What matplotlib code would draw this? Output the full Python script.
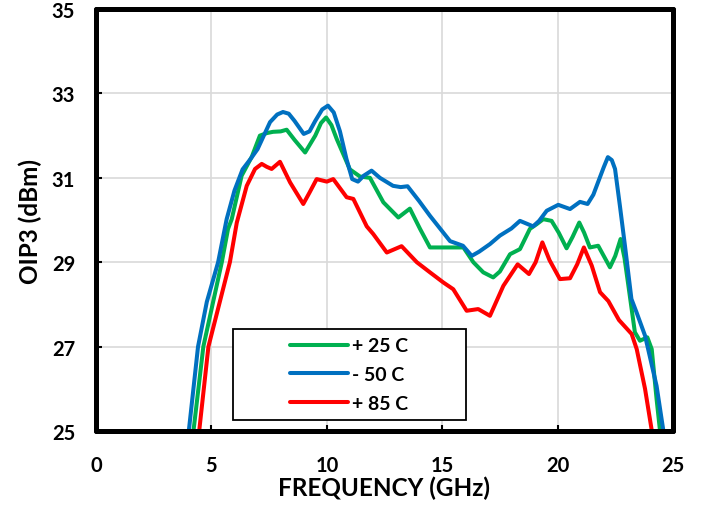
import matplotlib
matplotlib.use("Agg")
import matplotlib.pyplot as plt
from matplotlib.patches import Rectangle

plt.rcParams['font.family'] = ['Lato', 'DejaVu Sans']
plt.rcParams['font.weight'] = 'bold'

# -50 C
f_m50 = [4.0, 4.42, 4.8, 5.29, 5.66, 6.0, 6.35, 6.7, 7.0, 7.54, 7.85, 8.1, 8.35, 8.6, 9.0, 9.25, 9.5,
         9.8, 10.05, 10.3, 10.57, 10.85, 11.1, 11.35, 11.6, 11.94, 12.3, 12.87, 13.2, 13.5, 14.0,
         14.47, 15.34, 15.9, 16.28, 16.6, 17.07, 17.5, 18.0, 18.37, 18.94, 19.2, 19.53, 20.03,
         20.54, 20.97, 21.3, 21.55, 21.75, 22.0, 22.18, 22.35, 22.49, 22.7, 22.92, 23.2, 23.43,
         23.79, 24.29, 24.6]
p_m50 = [24.9, 27.0, 28.06, 29.0, 30.02, 30.7, 31.2, 31.45, 31.68, 32.32, 32.5, 32.56, 32.52, 32.35, 32.04, 32.1, 32.35,
         32.62, 32.71, 32.55, 32.1, 31.45, 30.97, 30.91, 31.05, 31.17, 31.0, 30.81, 30.78, 30.8, 30.45,
         30.1, 29.5, 29.39, 29.15, 29.25, 29.43, 29.63, 29.8, 29.98, 29.85, 29.98, 30.22, 30.36,
         30.26, 30.43, 30.38, 30.6, 30.89, 31.25, 31.49, 31.42, 31.21, 30.34, 29.39, 28.13, 27.8,
         27.26, 26.07, 24.95]

# +25 C
f_25 = [4.2, 4.65, 5.45, 5.72, 5.88, 6.31, 6.75, 7.1, 7.4, 7.67, 8.0, 8.26, 8.6, 9.06, 9.5, 9.75, 9.97,
        10.2, 10.43, 11.0, 11.44, 11.87, 12.45, 13.1, 13.6, 14.04, 14.47, 15.05, 15.92, 16.35, 16.78,
        17.21, 17.5, 17.94, 18.37, 18.8, 19.09, 19.38, 19.74, 20.05, 20.39, 20.65, 20.94, 21.15, 21.4,
        21.76, 22.0, 22.27, 22.5, 22.73, 22.9, 23.07, 23.35, 23.57, 23.89, 24.08, 24.29, 24.45]
p_25 = [24.9, 27.0, 29.0, 29.79, 30.02, 31.05, 31.5, 32.0, 32.06, 32.09, 32.1, 32.14, 31.9, 31.6, 32.0, 32.3, 32.43,
        32.25, 31.92, 31.2, 31.03, 31.0, 30.42, 30.06, 30.27, 29.79, 29.35, 29.35, 29.35, 29.0, 28.76,
        28.64, 28.78, 29.19, 29.31, 29.79, 29.9, 30.02, 29.98, 29.7, 29.33, 29.6, 29.94, 29.7, 29.35,
        29.39, 29.15, 28.88, 29.15, 29.55, 29.1, 28.44, 27.34, 27.14, 27.22, 26.94, 25.76, 24.95]

# +85 C
f_85 = [4.45, 4.87, 5.8, 6.1, 6.53, 6.89, 7.18, 7.4, 7.61, 7.97, 8.41, 8.98, 9.25, 9.56, 10.0, 10.28, 10.86,
        11.15, 11.73, 12.01, 12.6, 13.24, 13.9, 14.47, 15.05, 15.48, 16.06, 16.56, 17.07, 17.65,
        18.27, 18.76, 19.05, 19.34, 19.65, 20.1, 20.54, 20.85, 21.14, 21.48, 21.84, 22.2, 22.66, 23.21,
        23.43, 23.79, 24.1]
p_85 = [24.9, 27.0, 29.0, 29.94, 30.81, 31.21, 31.33, 31.26, 31.21, 31.38, 30.89, 30.38, 30.65, 30.97, 30.91, 30.97, 30.54,
        30.5, 29.85, 29.67, 29.23, 29.38, 29.0, 28.76, 28.52, 28.36, 27.85, 27.89, 27.73, 28.44,
        28.95, 28.72, 29.0, 29.47, 29.05, 28.6, 28.62, 28.95, 29.35, 28.92, 28.29, 28.08, 27.63, 27.3,
        26.94, 26.0, 24.95]

x_ticks = [0, 5, 10, 15, 20, 25]
y_ticks = [25, 27, 29, 31, 33, 35]

fig = plt.figure(figsize=(7.01, 5.06), dpi=100)
ax = fig.add_axes([0.137, 0.1462, 0.823, 0.834])

for v in [5, 10, 15, 20]:
    ax.axvline(v, color='#d9d9d9', lw=1.2, zorder=0)
for v in [27, 29, 31, 33]:
    ax.axhline(v, color='#d9d9d9', lw=1.2, zorder=0)

style = dict(lw=2.9, solid_joinstyle='round', solid_capstyle='round')
ax.plot(f_25, p_25, color='#00B050', label='+ 25 C', **style)
ax.plot(f_m50, p_m50, color='#0070C0', label='- 50 C', **style)
ax.plot(f_85, p_85, color='#FF0000', label='+ 85 C', **style)

ax.set_xlim(0, 25)
ax.set_ylim(25, 35)
ax.set_xticks(x_ticks)
ax.set_yticks(y_ticks)
ax.tick_params(axis='both', direction='in', length=4, width=1.5, labelsize=14.5)
ax.tick_params(axis='x', pad=17)
ax.tick_params(axis='y', pad=15)
for lab in ax.get_xticklabels() + ax.get_yticklabels():
    lab.set_fontweight('bold')
for s in ax.spines.values():
    s.set_linewidth(3.6)
    s.set_capstyle('round')

ax.set_xlabel('FREQUENCY (GHz)', fontsize=17.5, fontweight='bold', labelpad=1)
ax.set_ylabel('OIP3 (dBm)', fontsize=17.5, fontweight='bold', labelpad=7)

ax.add_patch(Rectangle((0.2374, 0.0268), 0.4036, 0.2149, transform=ax.transAxes,
                       fill=True, facecolor='white', edgecolor='black', lw=1.3, zorder=5))
leg = ax.legend(loc='center', bbox_to_anchor=(0.439, 0.134), frameon=False,
                handlelength=3.0, handletextpad=0.2, labelspacing=0.6,
                prop={'size': 14, 'weight': 'bold'})
leg.set_zorder(6)

fig.savefig('out.png', dpi=100)
